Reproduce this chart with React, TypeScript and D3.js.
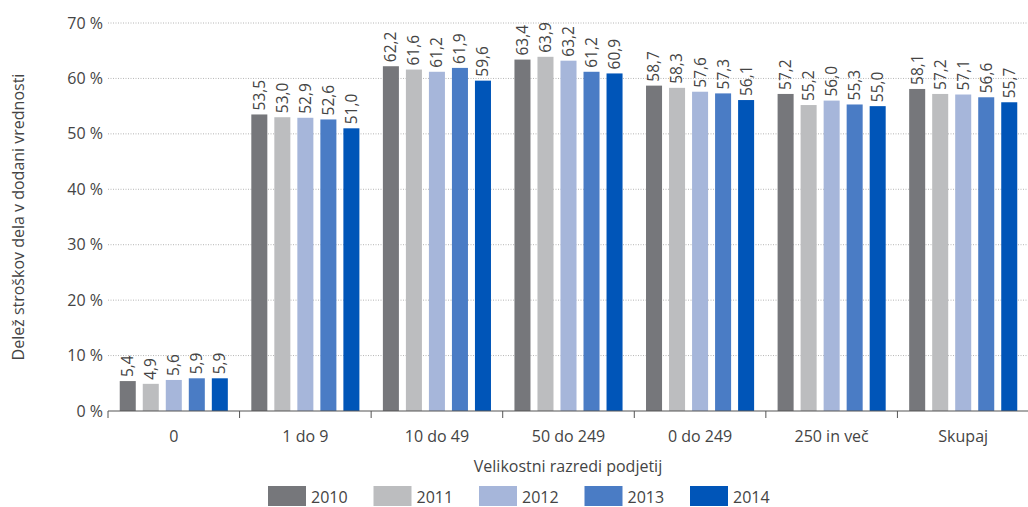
import React from "react";
import * as d3 from "d3";

const categories = ["0", "1 do 9", "10 do 49", "50 do 249", "0 do 249", "250 in več", "Skupaj"];
const years = ["2010", "2011", "2012", "2013", "2014"];
const colors = ["#76777b", "#bcbdbf", "#a6b6da", "#4a7cc5", "#0055b8"];
const s2010 = [5.4, 53.5, 62.2, 63.4, 58.7, 57.2, 58.1];
const s2011 = [4.9, 53.0, 61.6, 63.9, 58.3, 55.2, 57.2];
const s2012 = [5.6, 52.9, 61.2, 63.2, 57.6, 56.0, 57.1];
const s2013 = [5.9, 52.6, 61.9, 61.2, 57.3, 55.3, 56.6];
const s2014 = [5.9, 51.0, 59.6, 60.9, 56.1, 55.0, 55.7];
const series = [s2010, s2011, s2012, s2013, s2014];
const yTicks = [0, 10, 20, 30, 40, 50, 60, 70];

const W = 1028;
const H = 507;
const left = 108;
const right = 1029;
const top = 23;
const bottom = 411;
const font = "'Open Sans', sans-serif";
const textColor = "#444";

export default function App() {
  const x0 = d3.scaleBand().domain(categories).range([left, right]).padding(0);
  const x1 = d3.scaleBand().domain(years).range([0, x0.bandwidth()]).paddingInner(0.304).paddingOuter(0.51);
  const y = d3.scaleLinear().domain([0, 70]).range([bottom, top]);
  const fmt = (v: number) => v.toFixed(1).replace(".", ",");

  return (
    <svg width={W} height={H} style={{ position: "absolute", left: 0, top: 0, background: "#fff" }}>
      {yTicks.map((t) => (
        <g key={t}>
          {t > 0 && (
            <line x1={left} x2={right} y1={y(t)} y2={y(t)} stroke="#b5b5b5" strokeWidth={1} strokeDasharray="1,1.5" />
          )}
          <text x={103} y={y(t)} dy="0.35em" textAnchor="end" fontFamily={font} fontSize={16} fill={textColor}>
            {t} %
          </text>
        </g>
      ))}
      {categories.map((c, ci) =>
        series.map((s, si) => {
          const bx = (x0(c) as number) + (x1(years[si]) as number);
          const bw = x1.bandwidth();
          const v = s[ci];
          const cx = bx + bw / 2;
          const ty = y(v) - 4;
          return (
            <g key={c + si}>
              <rect x={bx} y={y(v)} width={bw} height={bottom - y(v)} fill={colors[si]} />
              <text
                transform={`translate(${cx},${ty}) rotate(-90)`}
                dy="0.35em"
                textAnchor="start"
                fontFamily={font}
                fontSize={15.5}
                fill={textColor}
              >
                {fmt(v)}
              </text>
            </g>
          );
        })
      )}
      <line x1={left} x2={right} y1={bottom} y2={bottom} stroke="#555" strokeWidth={1.2} />
      {d3.range(categories.length + 1).map((i) => {
        const xx = i < categories.length ? (x0(categories[i]) as number) : right - 0.5;
        return <line key={i} x1={xx} x2={xx} y1={bottom} y2={bottom + 7} stroke="#555" strokeWidth={1} />;
      })}
      {categories.map((c) => (
        <text
          key={c}
          x={(x0(c) as number) + x0.bandwidth() / 2}
          y={436}
          dy="0.35em"
          textAnchor="middle"
          fontFamily={font}
          fontSize={16}
          fill={textColor}
        >
          {c}
        </text>
      ))}
      <text x={568} y={466} dy="0.35em" textAnchor="middle" fontFamily={font} fontSize={16} fill={textColor}>
        Velikostni razredi podjetij
      </text>
      <text
        transform={`translate(18,217) rotate(-90)`}
        dy="0.35em"
        textAnchor="middle"
        fontFamily={font}
        fontSize={16}
        fill={textColor}
      >
        Delež stroškov dela v dodani vrednosti
      </text>
      {years.map((yr, i) => {
        const lx = 268 + i * 105.5;
        return (
          <g key={yr}>
            <rect x={lx} y={486} width={38} height={20} fill={colors[i]} />
            <text x={lx + 43} y={497} dy="0.35em" fontFamily={font} fontSize={16} fill={textColor}>
              {yr}
            </text>
          </g>
        );
      })}
    </svg>
  );
}
